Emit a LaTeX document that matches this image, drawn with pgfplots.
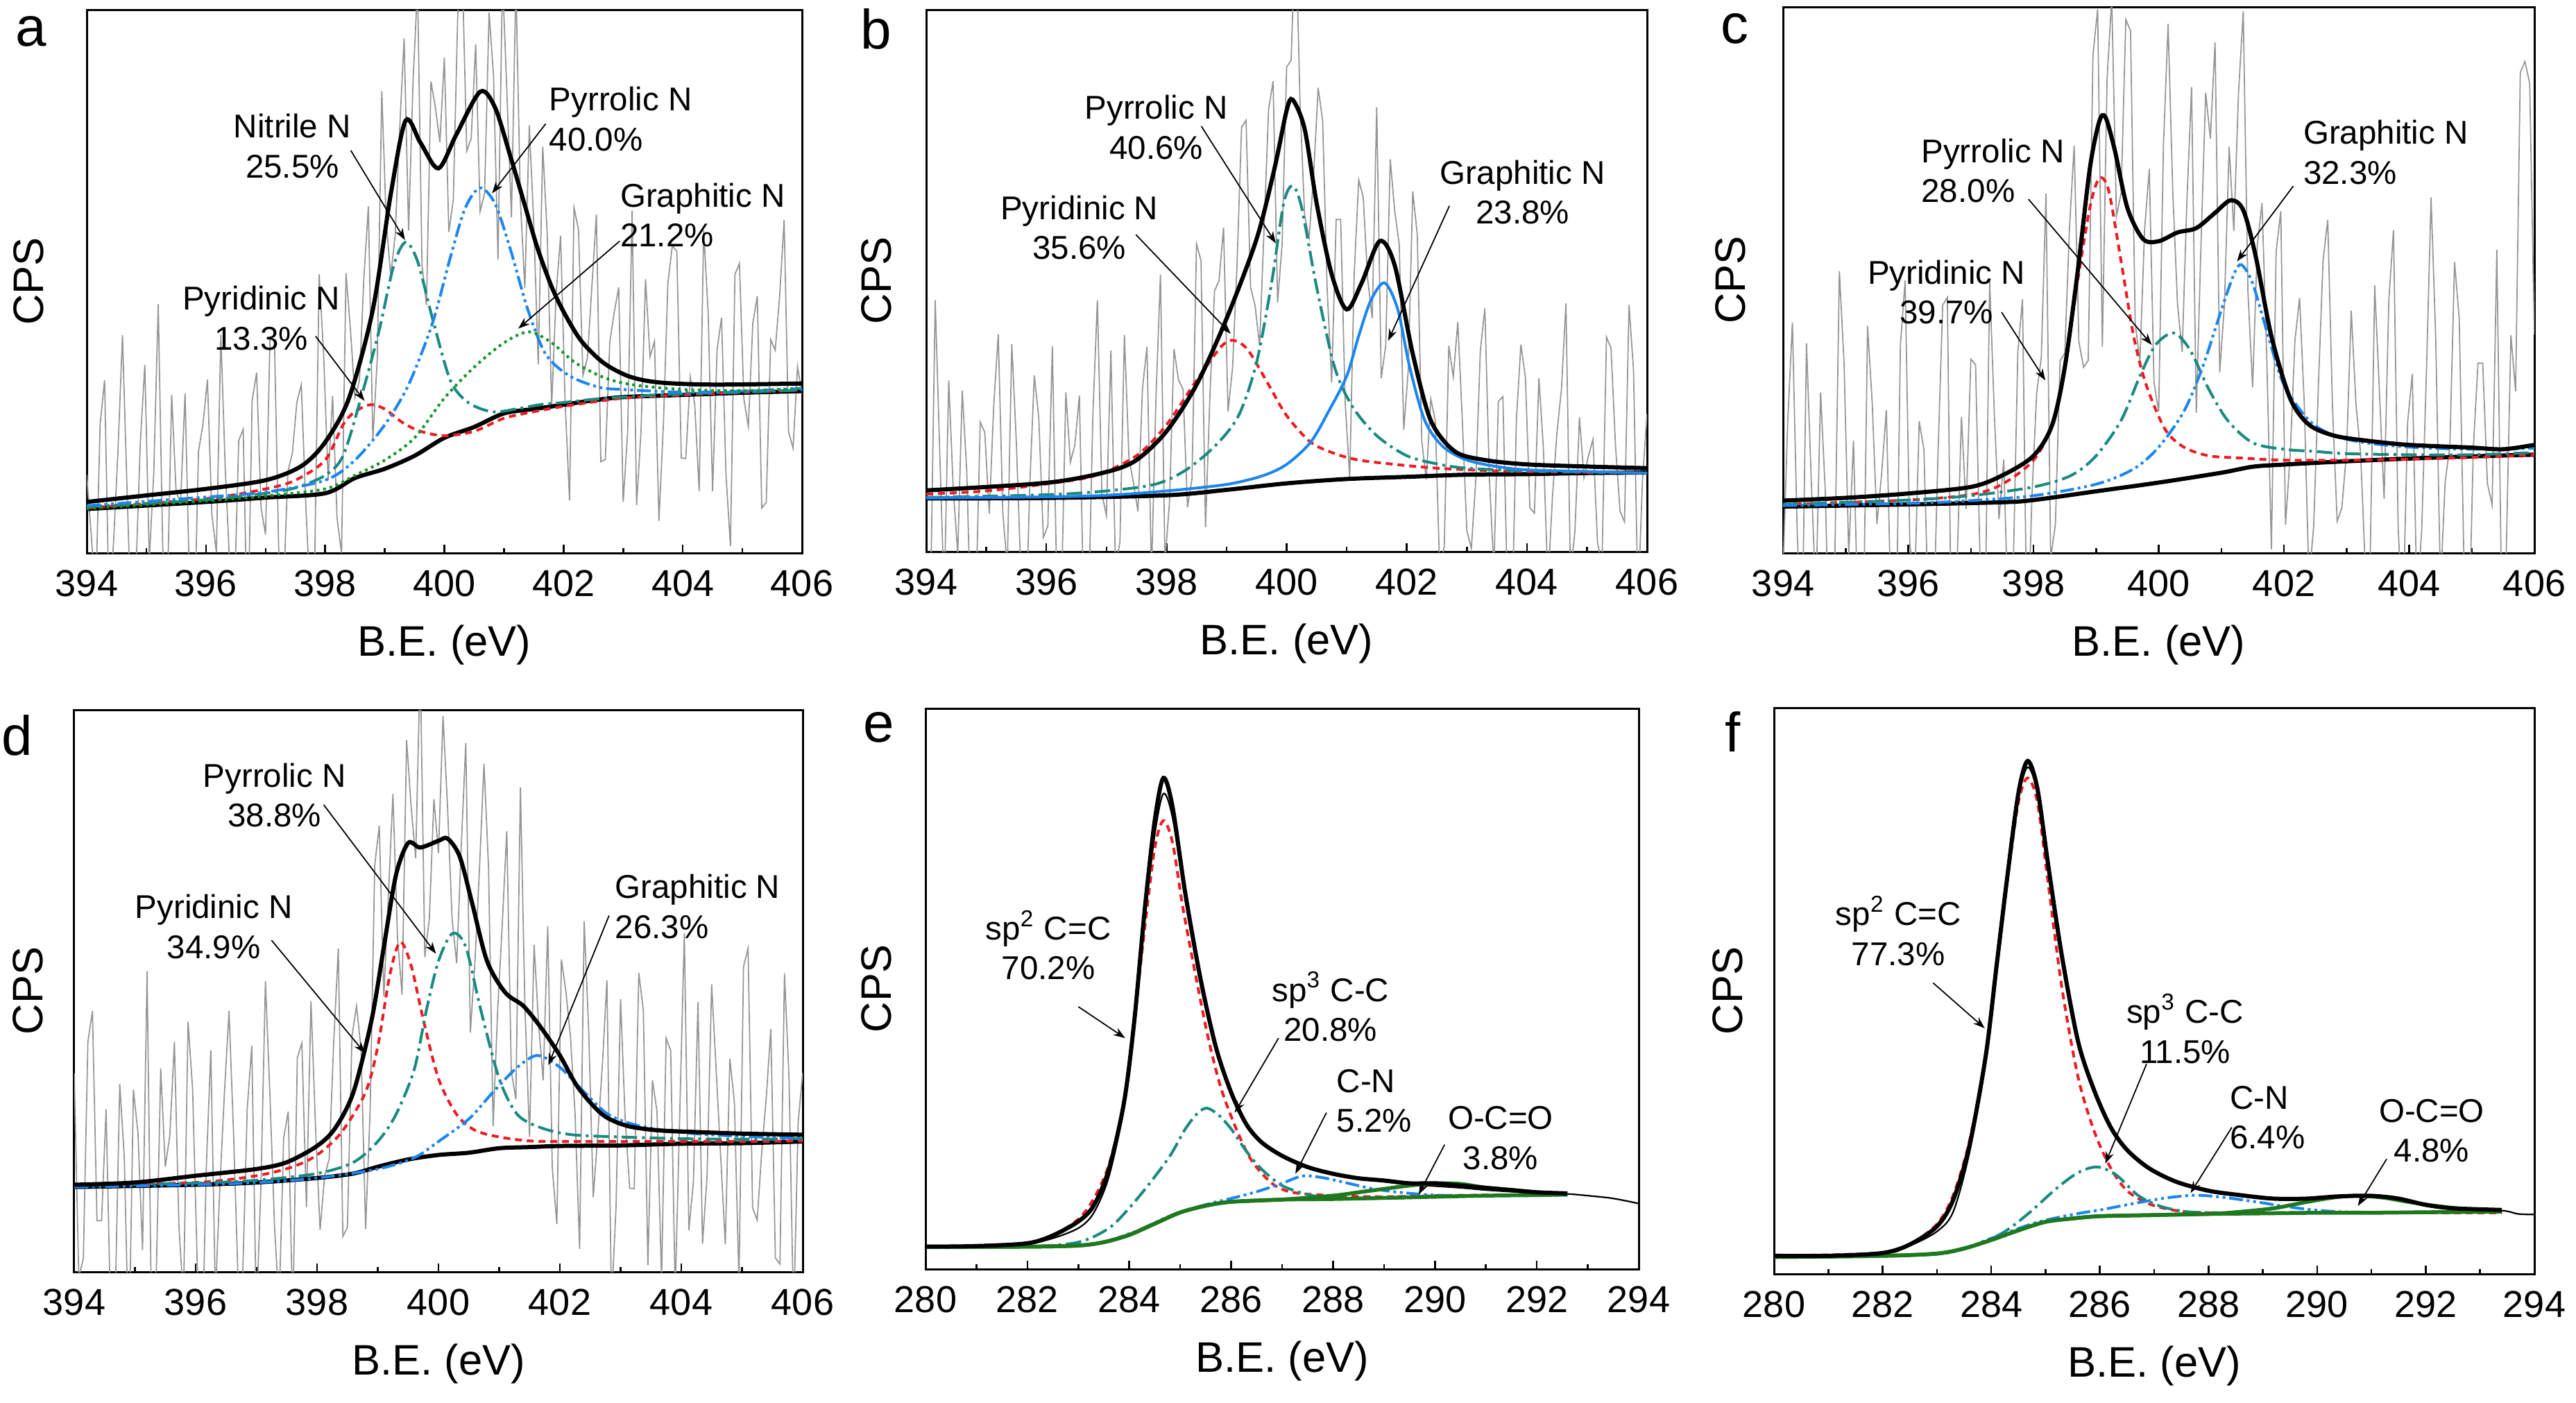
\documentclass[border=0pt]{standalone}
\usepackage{fontspec}
\setmainfont{Liberation Sans}
\usepackage{pgfplots}
\usepackage{pgfplotstable}
\pgfplotsset{compat=1.18}
\usetikzlibrary{arrows.meta}

\definecolor{cred}{RGB}{237,28,36}
\definecolor{cteal}{RGB}{26,138,128}
\definecolor{cblue}{RGB}{28,134,238}
\definecolor{cgreen}{RGB}{20,150,40}
\definecolor{cdgreen}{RGB}{30,120,30}
\definecolor{cgray}{RGB}{150,150,150}

\pgfplotstableread{
x a b c d
394.000 14.4 -0.7 -3.4 35.3
394.075 3.5 -6.7 24 -1
394.150 -8.4 46.4 42.2 2.4
394.225 23.7 18.5 4.5 40.9
394.300 31.8 -8.5 -18.9 46.4
394.375 -10.2 31.6 38.4 9.1
394.450 1.9 11.6 13.7 9.1
394.525 19 -0.4 -8.4 28.9
394.600 40.1 29.7 29.4 -8.5
394.675 12.2 14.8 11.3 -5.2
394.750 -14.7 -16.2 -23.8 33.4
394.825 -3.6 -10.2 -3 20.3
394.900 20.5 23.9 51.6 -14.9
394.975 34.6 22 34.8 32.4
395.050 -1.3 7 -0.3 24.7
395.125 14.8 27.1 20.6 3.9
395.200 45.8 40.1 -13.1 53.5
395.275 0.9 7.2 -20.9 -10.2
395.350 -9 -2.8 41.6 -1.3
395.425 29.1 38.3 27.4 36.2
395.500 11.2 20.3 5.3 18.7
395.575 9.3 -3.7 14.5 24.3
395.650 29.4 -17.6 26.2 40.9
395.725 -6.5 12.5 -10.2 8
395.800 -16.4 32.5 -20.5 -5.1
395.875 18.7 24.6 38.1 44.5
395.950 23.7 2.6 49.9 32.5
396.025 31.9 4.8 1.9 1.8
396.100 7 37.9 -7.2 -18
396.175 0.1 -7 24.1 18.4
396.250 40.2 -8.8 19 39.4
396.325 15.3 29.4 -12.1 -4.5
396.400 -2.6 16.5 -14.6 15.4
396.475 -9.5 19.7 18 32
396.550 20.7 28.8 45.4 46.4
396.625 22.8 -12 46.8 24.5
396.700 -17.1 -11.9 -27.3 -1.9
396.775 28 25.3 -3.8 -0.7
396.850 33.2 46.4 24.9 29.1
396.925 8.3 10.6 8.1 40.2
397.000 3.4 6.7 35.5 -8.1
397.075 39.7 37.1 34.5 15.2
397.150 39 -2.6 -2.9 51.7
397.225 -1.7 1.7 -14.3 31
397.300 -7.3 40 49.8 8
397.375 15 17.4 25.4 -6.1
397.450 18.4 12.7 6.2 23.8
397.525 27.7 7.4 17.1 28.5
397.600 31 30 -13.7 -8.6
397.675 8.8 37.8 -4 38.1
397.750 -8.4 -4.4 36.8 40.7
397.825 -1.6 28.4 46.5 11.5
397.900 51.3 51.1 -19.3 48.2
397.975 36.4 -1.9 10.2 25.7
398.050 13.4 9.1 29.2 7.5
398.125 28.9 37.4 35.8 17.1
398.200 6.4 31.7 65.8 20.1
398.275 0 30 -0.9 41
398.350 51.5 8.2 5.2 57.5
398.425 41 13.5 35.2 6.3
398.500 28.6 56.8 36.6 7.9
398.575 31.7 53.7 59.5 41.9
398.650 50.7 4.5 74.6 47.3
398.725 63.8 29.3 38.7 39.6
398.800 20.8 48.1 34 7.6
398.875 35.9 50 35.3 29
398.950 85 59.8 91.2 72.3
399.025 61 25.9 99.6 79.4
399.100 51 33.9 37.8 49
399.175 58.5 53.1 86.7 67
399.250 78 78.3 101.7 85
399.325 94.7 79.6 61.7 59.5
399.400 59.4 48.8 65.9 49.3
399.475 86.9 45.4 97.7 94.6
399.550 104.4 38 95.6 82.7
399.625 53 59.8 42 73.6
399.700 45.6 81.6 35.2 108.5
399.775 86.8 86.8 59.3 56
399.850 82 46 70.3 62.9
399.925 75.6 56.7 31.2 84.1
400.000 91.2 89.4 25.9 74.5
400.075 59.1 90.7 74.4 98.9
400.150 65 116 96.9 82.6
400.225 99.4 82 66.1 62.7
400.300 107.7 62 45.7 54.9
400.375 74 57.9 36.8 75.6
400.450 76.3 69.7 64.3 94.1
400.525 93.6 85.6 85.3 42.6
400.600 62.9 79.5 25.7 54.9
400.675 66.2 48.4 56.3 71.6
400.750 99.5 31.2 84.3 90.4
400.825 87.8 61.3 75.9 71.9
400.900 54 61.3 93.5 25.9
400.975 106 27.5 33.1 46.5
401.050 84.5 13.7 45.5 61.6
401.125 61.8 51.2 74.4 78.4
401.200 105 68.6 59 35.7
401.275 64.9 65.4 84.3 30.7
401.350 48.8 50.2 99.2 86.2
401.425 78.7 43.1 47.9 46.9
401.500 60.6 82 30.4 24
401.575 34.7 32 56.4 58.2
401.650 74.8 38 64.1 44
401.725 58.9 72.4 36.3 34.1
401.800 27 62.8 0.7 61.5
401.875 47.7 56.7 55.1 18.5
401.950 58.4 22.5 62.6 8.5
402.025 28 33.5 5.2 55.6
402.100 9.7 66.5 17.9 49.8
402.175 63.6 58.5 38.8 41.8
402.250 59.5 20.4 46.7 28.2
402.325 32.7 13.3 27.3 4.1
402.400 35.9 28.2 -5.1 62.4
402.475 49.1 24.2 4.9 42.8
402.550 62.3 -3.9 30.5 13.3
402.625 16.8 1.1 53.6 24.5
402.700 17.2 38 61 36.8
402.775 38.8 32.2 26.9 51.9
402.850 44.3 42.4 5.8 -5.7
402.925 48.9 24.2 8.3 11.5
403.000 9.4 3.9 18.5 48.5
403.075 22.2 0.6 44.4 27.3
403.150 63 13.3 27.4 14.9
403.225 8.8 37.1 18.2 14.8
403.300 22.6 44.9 -2.8 53.2
403.375 50.4 13.8 -2.9 46.5
403.450 36.1 -3.3 49 1.2
403.525 39 27.7 29.5 34.1
403.600 5.9 28.6 9.9 28.5
403.675 23.8 -6.5 46.2 -1.3
403.750 49.7 -13.6 59.1 41.6
403.825 56.6 24.3 4.4 39.4
403.900 55.5 38.2 -12.6 -3.6
403.975 17.5 32.2 23.8 28.3
404.050 17.4 8.1 32.8 60.2
404.125 32.4 7.1 -8.9 7.4
404.200 27.4 32 4.1 16.1
404.275 11.4 19 32.7 48
404.350 59.4 -6 65.1 5
404.425 44.4 10 39.1 17.1
404.500 11.4 21.9 -6.4 51.2
404.575 37.4 29.9 13.1 35.8
404.650 43.3 45.8 19.5 20.3
404.725 14.3 -4.2 53.3 4.9
404.800 1.3 3.8 42.8 37.9
404.875 51.3 24.8 -1.5 30.2
404.950 53.3 13.7 -17.1 -1.8
405.025 28.3 17.7 19.3 54.3
405.100 23.3 20.7 34.8 57.6
405.175 42.3 1.7 34.8 11.4
405.250 47.3 -2.4 12.7 9.2
405.325 8.3 39.6 8.8 21.3
405.400 9.3 37.6 55.5 31.1
405.475 39.3 19.6 -7 43.2
405.550 37.3 7.5 -0.5 2.5
405.625 47.3 5.5 39.9 1.4
405.700 61.3 45.5 29.6 53.1
405.775 22.3 33.5 88 34.4
405.850 19.3 -9.6 90 -8.6
405.925 34.3 13.4 86 26.6
406.000 29.3 25.4 40 35.4
}\noisetab

\pgfplotsset{
  xps/.style={
    scale only axis, anchor=north west,
    ymin=0, ymax=100, ytick=\empty,
    xtick distance=2, minor x tick num=1,
    xtick pos=left, tick align=inside,
    major tick length=2.4pt, minor tick length=1.4pt,
    every tick/.append style={line width=0.5pt, black},
    axis line style={line width=0.6pt},
    tick label style={font=\fontsize{10.8}{12}\selectfont},
    xticklabel style={yshift=-1.5pt},
    /pgf/number format/assume math mode=true,
    xlabel={B.E. (eV)}, ylabel={CPS},
    label style={font=\fontsize{12.3}{14}\selectfont},
    xlabel style={at={(axis description cs:0.5,0)}, anchor=center, yshift=-26.5pt},
    ylabel style={at={(axis description cs:0,0.5)}, anchor=center},
  },
  noise/.style={cgray, line width=0.35pt},
  env/.style={black, line width=1.2pt, smooth},
  bg/.style={black, line width=1.2pt, smooth},
  cr/.style={cred, line width=0.8pt, smooth, dash pattern=on 2pt off 1.4pt},
  ct/.style={cteal, line width=0.8pt, smooth, dash pattern=on 4.5pt off 1.4pt on 0.8pt off 1.4pt},
  cb/.style={cblue, line width=0.8pt, smooth, dash pattern=on 4pt off 1.1pt on 0.8pt off 1.1pt on 0.8pt off 1.1pt},
  cg/.style={cgreen, line width=0.8pt, smooth, dash pattern=on 0.8pt off 1.1pt},
}
\tikzset{
  ann/.style={font=\fontsize{9.5}{11.5}\selectfont, align=center, inner sep=0pt},
  annl/.style={font=\fontsize{9.5}{11.5}\selectfont, align=left, anchor=west, inner sep=0pt},
  arr/.style={-{Stealth[length=3.4pt,width=2.4pt]}, line width=0.35pt, black},
  plab/.style={font=\fontsize{16}{18}\selectfont},
}

\begin{document}
\begin{tikzpicture}
\useasboundingbox (0,0) rectangle (742.6pt,-404.4pt);

% ---------------- a ----------------
\begin{axis}[xps, at={(25pt,-2.8pt)}, width=206.2pt, height=156.6pt, xmin=394, xmax=406,
  ylabel style={yshift=16.8pt}]
\addplot[noise] table[x=x,y=a] {\noisetab};
\addplot[bg] coordinates {(394,8.1) (396,9.4) (397,10.2) (398,11) (398.5,13.8) (399,15.5) (399.5,17.9) (400,21.2) (400.5,23.2) (401,25.7) (401.5,26.5) (402,27.3) (402.5,28.1) (403,28.7) (404,29.1) (405,29.5) (406,29.8)};
\addplot[cr] coordinates {(394,8.3) (396,10) (397,11.8) (397.5,13.4) (398,17.1) (398.3,23.6) (398.5,26) (398.76,27.3) (399,26.5) (399.3,24) (399.6,22.4) (400,21.6) (400.5,22.4) (401,24.8) (401.5,26) (402,27) (403,28.5) (404,29.1) (405,29.6) (406,30)};
\addplot[ct] coordinates {(394,8.5) (396,9.8) (397,11) (397.5,12) (398,14.3) (398.3,17.9) (398.6,28.5) (398.9,40.7) (399.15,52.9) (399.35,57.2) (399.55,53.7) (399.8,43.2) (400.1,31.8) (400.4,27.7) (400.8,26) (401.2,26.5) (401.6,27.3) (402,27.7) (402.5,28.3) (403,28.7) (404,29.3) (405,29.6) (406,30)};
\addplot[cb] coordinates {(394,8.7) (396,10.3) (397,11.2) (398,13.4) (398.5,17.1) (399,23.6) (399.4,31) (399.8,42.3) (400.1,54.4) (400.35,63.5) (400.6,67.2) (400.85,64.3) (401.1,56.2) (401.4,44.8) (401.7,36.6) (402.1,32.6) (402.6,30.5) (403,30.1) (404,29.6) (405,29.8) (406,30.3)};
\addplot[cg] coordinates {(394,8.2) (396,9.6) (397,10.5) (398,11.8) (398.5,14.3) (399,17.1) (399.5,21.2) (400,28.5) (400.5,34.2) (401,38.7) (401.42,40.7) (401.8,38.7) (402.2,35) (402.7,32.2) (403.2,30.9) (404,30.1) (405,29.9) (406,30.3)};
\addplot[env] coordinates {(394,9.4) (395,10.6) (396,11.8) (397,13.4) (397.6,16) (398,20.4) (398.4,28.5) (398.8,44.8) (399.1,66) (399.35,79.6) (399.6,75.5) (399.9,70.8) (400.2,77) (400.6,84.9) (400.85,82) (401.1,73.3) (401.35,64) (401.56,56.2) (401.8,49) (402.02,44) (402.3,39) (402.67,35) (403.1,32.5) (403.6,31.4) (404.5,31) (406,31.2)};
\node[ann] at (axis cs:397.45,74.9) {Nitrile N\\25.5\%};
\draw[arr] (axis cs:398.43,74.1) -- (axis cs:399.34,57.6);
\node[annl] at (axis cs:401.75,79.9) {Pyrrolic N\\40.0\%};
\draw[arr] (axis cs:401.70,79.0) -- (axis cs:400.80,66.2);
\node[annl] at (axis cs:402.94,62.2) {Graphitic N\\21.2\%};
\draw[arr] (axis cs:402.94,57.4) -- (axis cs:401.24,41.3);
\node[ann] at (axis cs:396.93,43.2) {Pyridinic N\\13.3\%};
\draw[arr] (axis cs:397.84,39.9) -- (axis cs:398.66,28.0);
\end{axis}

% ---------------- b ----------------
\begin{axis}[xps, at={(267pt,-2.8pt)}, width=207.8pt, height=156.2pt, xmin=394, xmax=406,
  ylabel style={yshift=14.4pt}]
\addplot[noise] table[x=x,y=b] {\noisetab};
\addplot[bg] coordinates {(394,9.8) (396,9.9) (398,10.4) (399,11.4) (400,12.6) (401,13.4) (402,13.8) (403,14.2) (404,14.3) (405,14.5) (406,14.6)};
\addplot[cr] coordinates {(394,10.6) (395,11.2) (396,12.5) (396.8,14) (397.5,17.7) (398,23.4) (398.5,31.6) (398.9,37.7) (399.1,39) (399.35,37.3) (399.7,30.8) (400,25.1) (400.4,20.2) (400.8,18.1) (401.2,16.9) (401.8,16.1) (402.5,15.4) (403.5,14.9) (404.5,14.7) (406,14.5)};
\addplot[ct] coordinates {(394,10) (396,10.5) (397,11.2) (397.8,12.4) (398.3,14.9) (398.8,19.4) (399.2,25.1) (399.5,34.9) (399.75,49.6) (399.95,64.2) (400.1,67.5) (400.25,63.5) (400.5,48.8) (400.8,34) (401.1,26.7) (401.5,21.4) (402,17.7) (402.5,16.2) (403,15.4) (404,14.9) (405,14.7) (406,14.5)};
\addplot[cblue, line width=0.8pt, smooth] coordinates {(394,9.9) (396,10.1) (397,10.4) (398,11.2) (399,12.4) (399.6,14) (400,16.1) (400.4,20.2) (400.7,25.9) (401,32.4) (401.2,39.8) (401.4,46.3) (401.63,49.6) (401.85,44.7) (402.05,34) (402.3,24.2) (402.6,19.4) (403,16.9) (403.5,15.7) (404,15.1) (405,14.8) (406,14.5)};
\addplot[env] coordinates {(394,11.3) (396,12.7) (397,14.7) (397.5,16.9) (398,22.2) (398.5,30.8) (399,43) (399.5,57.7) (399.8,70.8) (400,81.4) (400.1,83.4) (400.3,78) (400.5,64.3) (400.75,51.2) (401,44.7) (401.25,49.6) (401.55,57.3) (401.8,52.8) (402.1,36.5) (402.4,24.2) (402.8,18.5) (403.3,16.9) (404,16.1) (405,15.7) (406,15.4)};
\node[ann] at (axis cs:397.83,78.3) {Pyrrolic N\\40.6\%};
\draw[arr] (axis cs:398.58,78.5) -- (axis cs:399.82,56.9);
\node[ann] at (axis cs:396.55,59.8) {Pyridinic N\\35.6\%};
\draw[arr] (axis cs:397.49,58.5) -- (axis cs:399.07,40.2);
\node[ann] at (axis cs:403.93,66.3) {Graphitic N\\23.8\%};
\draw[arr] (axis cs:402.71,63.8) -- (axis cs:401.69,38.9);
\end{axis}

% ---------------- c ----------------
\begin{axis}[xps, at={(514pt,-2pt)}, width=216.6pt, height=157.4pt, xmin=394, xmax=406,
  ylabel style={yshift=15.2pt}]
\addplot[noise] table[x=x,y=c] {\noisetab};
\addplot[bg] coordinates {(394,8.5) (396,8.9) (397.5,9.3) (398,9.7) (399,11.3) (400,12.9) (401,14.7) (401.5,15.8) (402,16.2) (403,16.8) (404,17.3) (405,17.7) (406,18)};
\addplot[cr] coordinates {(394,8.9) (396,9.7) (397,10.7) (397.5,12.6) (398,17) (398.3,23.5) (398.5,34) (398.7,49.4) (398.9,63.2) (399.05,68.6) (399.2,66.4) (399.4,53.4) (399.6,39.7) (399.8,30.8) (400.1,22.7) (400.4,19.4) (400.8,17.8) (401.3,17.4) (402,17) (403,17) (404,17.2) (405,17.5) (406,18)};
\addplot[ct] coordinates {(394,8.9) (396,9.7) (397,10.5) (398,12.1) (398.6,14.2) (399,17.8) (399.4,24.3) (399.7,32.4) (399.95,38.1) (400.24,40.3) (400.5,37.2) (400.8,30) (401.1,24.3) (401.5,20.2) (402,19) (402.5,18.6) (403,18.2) (404,18) (405,18) (406,18.4)};
\addplot[cb] coordinates {(394,8.7) (396,9.1) (397,9.6) (398,10.5) (399,12.6) (399.6,15.4) (400,19.4) (400.4,25.9) (400.7,34) (401,44.5) (401.2,51) (401.32,52.8) (401.5,49.4) (401.75,39.7) (402,30.8) (402.4,24.3) (402.8,21.5) (403.3,20.2) (404,19.4) (405,19) (406,19.2)};
\addplot[env] coordinates {(394,9.6) (395,10.1) (396,10.9) (397,12.1) (397.5,14.2) (398,17.8) (398.3,23.5) (398.5,34) (398.7,51) (398.9,70.4) (399.05,79) (399.15,79.8) (399.3,73.7) (399.5,63.2) (399.75,57.5) (400,57.1) (400.3,58.7) (400.6,59.5) (400.9,62.3) (401.15,64.6) (401.35,62.8) (401.55,54.3) (401.8,39.7) (402.1,28.3) (402.4,23.5) (402.8,21.5) (403.3,20.6) (404,19.8) (405,19.3) (405.5,19) (406,19.8)};
\node[annl] at (axis cs:396.2,70) {Pyrrolic N\\28.0\%};
\draw[arr] (axis cs:397.92,64.8) -- (axis cs:399.89,38.1);
\node[annl] at (axis cs:402.3,73.4) {Graphitic N\\32.3\%};
\draw[arr] (axis cs:402.15,67.2) -- (axis cs:401.25,53.4);
\node[ann] at (axis cs:396.61,47.8) {Pyridinic N\\39.7\%};
\draw[arr] (axis cs:397.49,44.1) -- (axis cs:398.19,31.6);
\end{axis}

% ---------------- d ----------------
\begin{axis}[xps, at={(21.4pt,-204.6pt)}, width=210pt, height=162pt, xmin=394, xmax=406,
  ylabel style={yshift=13.4pt}]
\addplot[noise] table[x=x,y=d] {\noisetab};
\addplot[bg] coordinates {(394,15.1) (396,15.5) (397,15.9) (398,16.7) (398.6,17.5) (399,18.7) (399.5,20) (400,20.8) (400.5,21.2) (401,22) (401.5,22.2) (402,22.4) (403,22.5) (404,22.8) (405,22.9) (406,23.2)};
\addplot[cr] coordinates {(394,15.5) (396,15.9) (397,17.1) (397.6,18.7) (398,20.8) (398.4,24.8) (398.8,32) (399,40.1) (399.2,52.9) (399.37,58.7) (399.55,54.5) (399.75,44.9) (400,34.4) (400.3,28) (400.6,25.2) (401,24) (401.5,23.3) (402,23.2) (403,23.2) (404,23.2) (405,23.2) (406,23.3)};
\addplot[ct] coordinates {(394,15.3) (396,15.8) (397,16.3) (398,17.5) (398.6,19.5) (399,23.2) (399.3,28) (399.6,36) (399.8,46.5) (400,55.3) (400.23,60.2) (400.45,57.8) (400.7,46.5) (401,34.4) (401.3,28) (401.7,25.6) (402.2,24.4) (403,24) (404,23.7) (405,23.6) (406,23.7)};
\addplot[cb] coordinates {(394,15.1) (396,15.5) (397,15.9) (398,16.7) (399,18.3) (399.6,20.3) (400,23.2) (400.5,27.2) (400.9,32) (401.3,36.4) (401.63,38.5) (402,36.4) (402.4,32) (402.8,28) (403.3,26) (404,24.8) (405,24.1) (406,23.8)};
\addplot[env] coordinates {(394,15.5) (395,15.9) (396,17.1) (397,18.3) (397.5,19.5) (398,22.4) (398.3,25.6) (398.6,32) (398.9,44.9) (399.1,57.8) (399.3,70.6) (399.5,76.3) (399.7,75.5) (400,76.7) (400.15,77.1) (400.35,73.9) (400.55,65.8) (400.8,55.3) (401.1,49.7) (401.4,47.3) (401.7,43.3) (402,38.5) (402.3,32.8) (402.7,28) (403.1,26) (403.6,25.2) (404.2,24.9) (405,24.6) (406,24.4)};
\node[ann] at (axis cs:397.3,84.8) {Pyrrolic N\\38.8\%};
\draw[arr] (axis cs:398.11,83.1) -- (axis cs:399.96,56.6);
\node[ann] at (axis cs:396.3,61.4) {Pyridinic N\\34.9\%};
\draw[arr] (axis cs:397.25,59) -- (axis cs:398.79,38.9);
\node[annl] at (axis cs:402.9,65) {Graphitic N\\26.3\%};
\draw[arr] (axis cs:402.81,63.4) -- (axis cs:401.81,36.8);
\end{axis}

% ---------------- e ----------------
\begin{axis}[xps, at={(266.8pt,-204.2pt)}, width=205.6pt, height=161.6pt, xmin=280, xmax=294,
  ylabel style={yshift=14.2pt}]
\addplot[black, line width=0.45pt, smooth] coordinates {(280,4) (281,4.1) (282,4.5) (282.5,5.5) (283,7.3) (283.3,10) (283.6,16.5) (283.9,29) (284.1,43.5) (284.3,62) (284.5,77.5) (284.67,84.8) (284.85,80.5) (285.1,66) (285.4,51) (285.7,39.3) (286,31.3) (286.3,25.8) (286.6,22.6) (287,20.2) (287.5,18.2) (288,17) (288.5,16.2) (289,15.6) (289.5,15.1) (290,14.8) (290.5,14.5) (291,14.1) (291.5,13.8) (292,13.5) (292.6,13.4) (293,13.1) (293.5,12.6) (294,11.7)};
\addplot[cr] coordinates {(280,4) (282,4.6) (282.5,6) (283,8.9) (283.3,12.5) (283.6,18.6) (283.9,29.9) (284.1,44.4) (284.3,60.6) (284.5,75.1) (284.67,80) (284.85,76) (285.05,64.6) (285.3,52.5) (285.55,41.2) (285.8,32.3) (286.1,25) (286.4,19.4) (286.8,15.3) (287.2,13.7) (288,13.1) (289,12.9) (290,13.1) (291,13.2) (292.6,13.3)};
\addplot[ct] coordinates {(280,3.9) (282,4) (283,4.8) (283.6,7.3) (284,10.9) (284.4,15.3) (284.8,20.2) (285.1,25) (285.35,27.9) (285.53,28.7) (285.75,27.5) (286,25) (286.3,21) (286.6,17.8) (287,14.9) (287.5,13.3) (288,12.7) (289,12.6) (290,12.9) (291,13.1) (292.6,13.3)};
\addplot[cb] coordinates {(280,3.9) (283,4.2) (284,6.3) (284.8,9.5) (285.5,11.5) (286,12.6) (286.5,13.8) (287,15.3) (287.4,16.6) (287.8,16.3) (288.3,15.3) (288.8,14.3) (289.3,13.7) (290,13.2) (291,13.1) (292.6,13.2)};
\addplot[cdgreen, line width=1.1pt, smooth] coordinates {(280,4) (282,4) (283,4.2) (283.5,4.8) (284,6.1) (284.5,8.1) (285,10.1) (285.5,11.3) (286,12) (287,12.4) (288,12.5) (289,12.7) (290,12.9) (291,13.1) (292,13.2) (292.6,13.3)};
\addplot[cdgreen, line width=1.1pt, smooth] coordinates {(280,4) (282,4) (283,4.2) (283.5,4.8) (284,6.1) (284.5,8.1) (285,10.1) (285.5,11.3) (286,12) (287,12.4) (288,13.1) (288.5,13.7) (289,14.3) (289.5,14.9) (290,15.3) (290.5,15.2) (291,14.5) (291.5,14.1) (292,13.7) (292.6,13.3)};
\addplot[env] coordinates {(280,4) (281,4.1) (282,4.6) (282.5,6) (283,8.5) (283.3,11.3) (283.6,17.8) (283.9,29.9) (284.1,44.4) (284.3,63.8) (284.5,80) (284.67,87.6) (284.85,82.4) (285.1,67) (285.4,51.7) (285.7,39.6) (286,31.5) (286.3,25.8) (286.6,22.6) (287,20.2) (287.5,18.2) (288,17) (288.5,16.2) (289,15.8) (289.5,15.3) (290,15.3) (290.5,14.9) (291,14.5) (291.5,14.1) (292,13.7) (292.6,13.5)};
\node[ann] at (axis cs:282.41,57.8) {sp\textsuperscript{2} C=C\\70.2\%};
\draw[arr] (axis cs:283.0,46.8) -- (axis cs:283.92,41.2);
\node[ann] at (axis cs:287.95,46.8) {sp\textsuperscript{3} C-C\\20.8\%};
\draw[arr] (axis cs:286.93,41.2) -- (axis cs:286.07,27.9);
\node[annl] at (axis cs:288.06,30) {C-N\\5.2\%};
\draw[arr] (axis cs:287.87,27.9) -- (axis cs:287.26,17);
\node[ann] at (axis cs:291.29,23.4) {O-C=O\\3.8\%};
\draw[arr] (axis cs:290.19,22.2) -- (axis cs:289.68,13.3);
\end{axis}

% ---------------- f ----------------
\begin{axis}[xps, at={(511.4pt,-204pt)}, width=219.2pt, height=163.2pt, xmin=280, xmax=294,
  ylabel style={yshift=13.4pt}]
\addplot[black, line width=0.45pt, smooth] coordinates {(280,3.2) (281,3.2) (282,3.7) (282.5,5) (283,7.5) (283.3,11) (283.6,21.5) (283.9,38) (284.1,54) (284.3,70) (284.5,84) (284.67,89.5) (284.85,85) (285.05,71.5) (285.3,56) (285.6,41) (285.9,32.3) (286.2,25.9) (286.5,21.9) (286.9,18.7) (287.4,16.3) (288,14.7) (288.6,13.9) (289.2,13.3) (289.8,13.3) (290.4,13.7) (291,13.8) (291.5,13.3) (292,12.2) (292.5,11.6) (293.4,11.2) (293.7,10.6) (294,10.5)};
\addplot[cr] coordinates {(280,3.2) (282,3.7) (282.5,5.2) (283,8.8) (283.3,13.9) (283.6,23.5) (283.9,38.6) (284.1,53.8) (284.3,69.7) (284.5,83.3) (284.67,87.6) (284.85,83.3) (285.05,68.9) (285.3,50.6) (285.6,34.7) (285.9,25.1) (286.2,18.7) (286.5,14.7) (286.9,12.4) (287.4,11.2) (288,10.8) (290,10.8) (292,10.8) (293.4,10.8)};
\addplot[ct] coordinates {(280,3) (282,3.2) (283,3.6) (283.6,4.8) (284.2,7.2) (284.7,10.8) (285.2,15.1) (285.6,17.9) (285.95,18.9) (286.3,17.5) (286.7,13.9) (287.1,12) (287.6,11) (288.3,10.8) (289,10.8) (291,10.9) (293.4,11)};
\addplot[cb] coordinates {(280,3) (283,3.5) (284,6.3) (284.8,9) (285.5,10.5) (286,11.3) (286.6,12.4) (287.2,13.4) (287.77,13.9) (288.3,13.5) (288.9,12.7) (289.5,11.8) (290.2,11.1) (291,10.9) (293.4,11)};
\addplot[cdgreen, line width=1.1pt, smooth] coordinates {(280,3) (282,3.2) (283,3.6) (283.5,4.5) (284,6) (284.5,7.7) (285,9.2) (285.5,9.8) (286,10.2) (287,10.4) (288,10.6) (289,10.7) (290,10.8) (291,10.8) (292,10.9) (293.4,11)};
\addplot[cdgreen, line width=1.1pt, smooth] coordinates {(280,3) (282,3.2) (283,3.6) (283.5,4.5) (284,6) (284.5,7.7) (285,9.2) (285.5,9.8) (286,10.2) (287,10.4) (288,10.6) (288.5,10.9) (289.2,11.6) (289.8,12.7) (290.3,13.5) (290.7,13.8) (291.2,13.5) (291.7,12.7) (292.2,12) (292.8,11.4) (293.4,11.2)};
\addplot[env] coordinates {(280,3.2) (281,3.2) (282,3.7) (282.5,5.2) (283,8.4) (283.3,13.1) (283.6,22.7) (283.9,38.6) (284.1,54.6) (284.3,70.5) (284.5,84.9) (284.67,90.6) (284.85,85.7) (285.05,72.1) (285.3,56.2) (285.6,41) (285.9,32.3) (286.2,25.9) (286.5,21.9) (286.9,18.7) (287.4,16.3) (288,14.7) (288.6,13.9) (289.2,13.3) (289.8,13.3) (290.4,13.7) (291,13.8) (291.5,13.3) (292,12.2) (292.5,11.6) (293.4,11.3)};
\node[ann] at (axis cs:282.29,60.6) {sp\textsuperscript{2} C=C\\77.3\%};
\draw[arr] (axis cs:282.93,51.4) -- (axis cs:283.88,43.4);
\node[ann] at (axis cs:287.57,43.3) {sp\textsuperscript{3} C-C\\11.5\%};
\draw[arr] (axis cs:286.86,37.1) -- (axis cs:286.1,19.5);
\node[annl] at (axis cs:288.38,27.6) {C-N\\6.4\%};
\draw[arr] (axis cs:288.43,25.9) -- (axis cs:287.67,14.3);
\node[ann] at (axis cs:292.11,25.3) {O-C=O\\4.8\%};
\draw[arr] (axis cs:291.28,20.3) -- (axis cs:290.75,12);
\end{axis}

\node[plab] at (9pt,-9pt) {a};
\node[plab] at (252.6pt,-8.4pt) {b};
\node[plab] at (500pt,-8.2pt) {c};
\node[plab] at (5pt,-212pt) {d};
\node[plab] at (253.4pt,-209.6pt) {e};
\node[plab] at (499.5pt,-211pt) {f};
\end{tikzpicture}
\end{document}
